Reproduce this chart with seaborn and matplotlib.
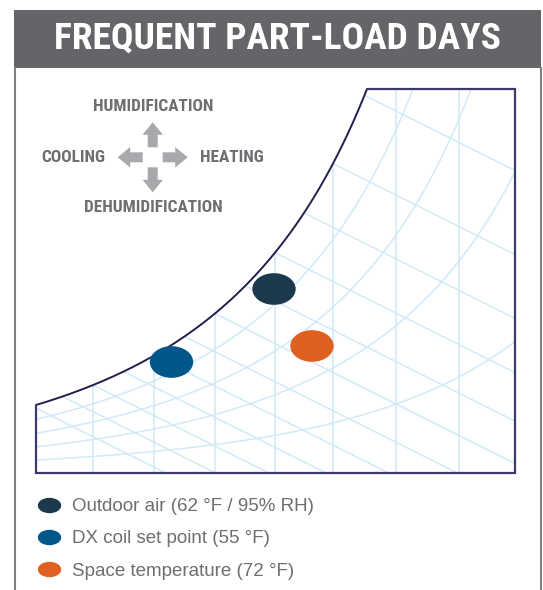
import os
import numpy as np
import pandas as pd
import matplotlib
matplotlib.use("Agg")
import matplotlib.pyplot as plt
import seaborn as sns
from matplotlib.path import Path
from matplotlib.patches import Rectangle, FancyArrow
from matplotlib.lines import Line2D
from matplotlib import font_manager
from matplotlib.font_manager import FontProperties

sns.set_theme(style="white")
plt.rcParams["font.family"] = ["Liberation Sans", "DejaVu Sans"]

# ---------------- content ----------------
title = "FREQUENT PART-LOAD DAYS"

state_labels = ["Outdoor air (62 °F / 95% RH)",
                "DX coil set point (55 °F)",
                "Space temperature (72 °F)"]
state_colors = ["#1c384c", "#02578a", "#e06020"]
# state points on the chart grid (dry-bulb units across, moisture units up)
state_drybulb = [238.0, 135.5, 276.0]
state_moisture = [184.0, 111.0, 127.0]

process_labels = ["HUMIDIFICATION", "HEATING", "DEHUMIDIFICATION", "COOLING"]
process_dx = [0, 1, 0, -1]
process_dy = [1, 0, -1, 0]

# chart grid
drybulb_lines = [57, 118, 179, 239, 297, 360, 423]
rh_levels = [0.2, 0.4, 0.6, 0.8]
wetbulb_starts = [-4, 26.5, 57, 87.5, 118, 148.5, 179, 209, 239, 268, 297, 328.5]

# chart extent in grid units
DB_MAX, W_MAX = 479.0, 384.0
# humidity ratio W = S·φ·p/(1 − φ·p), p = saturation pressure ratio along dry bulb
SCALE, P0, GROWTH, CURVE = 1043.0, 0.0612, 0.004143, 1.0e-6
WB_SLOPE = 0.5

GRID = "#d0eaf8"
FRAME = "#3c3a6c"
SAT = "#221f4f"
GREY_TXT = "#6d6e71"


def moisture(db, phi):
    db = np.asarray(db, dtype=float)
    p = P0 * np.exp(GROWTH * db + CURVE * db ** 2)
    return SCALE * phi * p / (1.0 - phi * p)


def ellipse_marker(ratio):
    circ = Path.unit_circle()
    return Path(circ.vertices * np.array([1.0, ratio]), circ.codes)


def narrow_font(bold):
    """Pick an installed narrow/condensed face, else the regular sans."""
    prefs = ("liberationsansnarrow", "robotocondensed", "dejavusanscondensed",
             "opensanscondensed", "opensans_condensed")
    found = []
    for f in font_manager.fontManager.ttflist:
        base = os.path.basename(f.fname).lower()
        flat = base.replace("-", "").replace(" ", "")
        if not ("narrow" in base or "condensed" in base):
            continue
        if any(k in base for k in ("italic", "oblique", "semi", "extra",
                                   "light", "black", "medium", "thin")):
            continue
        if ("bold" in base) != bold:
            continue
        rank = next((i for i, p in enumerate(prefs) if flat.startswith(p)), len(prefs))
        found.append((rank, f.fname))
    if found:
        return FontProperties(fname=sorted(found)[0][1])
    return FontProperties(family=["Liberation Sans", "DejaVu Sans"],
                          weight="bold" if bold else "normal")


# ---------------- figure ----------------
fig = plt.figure(figsize=(5.43, 5.90), dpi=100)
fig.patch.set_facecolor("white")
renderer = fig.canvas.get_renderer()


def fit_width(txt, target_px):
    w = txt.get_window_extent(renderer).width
    txt.set_fontsize(txt.get_fontsize() * target_px / w)
    return txt.get_fontsize()


page = fig.add_axes([0, 0, 1, 1])
page.set_xlim(0, 543)
page.set_ylim(590, 0)
page.axis("off")

bold_narrow = narrow_font(True)

# title banner and panel sides
page.add_patch(Rectangle((14, 9.5), 527, 58, color="#636569", lw=0))
t_title = page.text(277.5, 39, title, color="white", fontproperties=bold_narrow,
                    fontsize=26, ha="center", va="center")
fit_width(t_title, 447)
for xs in (15.3, 540.7):
    page.plot([xs, xs], [67, 590], color="#7f8084", lw=1.5,
              solid_capstyle="butt")

# process direction key
cx, cy = 152.7, 157.3
key_texts = []
for lab, dx, dy in zip(process_labels, process_dx, process_dy):
    ux, uy = dx, -dy
    page.add_patch(FancyArrow(cx + 10 * ux, cy + 10 * uy, 25 * ux, 25 * uy,
                              width=10, head_width=20.5, head_length=12.5,
                              length_includes_head=True, color="#a7a9ac", lw=0))
    if dx == 0:
        t = page.text(cx + 0.8, cy + uy * 50.5, lab, ha="center", va="center",
                      fontproperties=bold_narrow, fontsize=12.7, color=GREY_TXT)
    else:
        t = page.text(cx + ux * 47, cy, lab, ha="left" if dx > 0 else "right",
                      va="center", fontproperties=bold_narrow, fontsize=12.7,
                      color=GREY_TXT)
    key_texts.append(t)
key_size = fit_width(key_texts[0], 120)
for t in key_texts[1:]:
    t.set_fontsize(key_size)

# psychrometric chart panel
chart = fig.add_axes([36 / 543, 117 / 590, 479 / 543, 384 / 590])
chart.set_facecolor("none")

db = np.linspace(0, DB_MAX, 800)
for phi in rh_levels:
    chart.plot(db, moisture(db, phi), color=GRID, lw=1.1, zorder=1)
for x in drybulb_lines:
    chart.plot([x, x], [0, float(moisture(x, 1.0))], color=GRID, lw=1.1, zorder=1)
for x0 in wetbulb_starts:
    y0 = float(moisture(x0, 1.0))
    y_end = y0 - WB_SLOPE * (DB_MAX - x0)
    if y_end >= 0:
        xe, ye = DB_MAX, y_end
    else:
        xe, ye = x0 + y0 / WB_SLOPE, 0.0
    chart.plot([x0, xe], [y0, ye], color=GRID, lw=1.1, zorder=1)

# saturation curve up to where it meets the top edge
lo, hi = 0.0, DB_MAX
for _ in range(60):
    mid = 0.5 * (lo + hi)
    if moisture(mid, 1.0) < W_MAX:
        lo = mid
    else:
        hi = mid
db_top = lo
db_sat = np.linspace(0, db_top, 400)
chart.plot(db_sat, moisture(db_sat, 1.0), color=SAT, lw=1.4, zorder=3, clip_on=False)
w0 = float(moisture(0, 1.0))
chart.plot([db_top, DB_MAX, DB_MAX, 0, 0], [W_MAX, W_MAX, 0, 0, w0],
           color=FRAME, lw=1.6, zorder=3, clip_on=False, solid_joinstyle="miter")

states = pd.DataFrame({"state": state_labels,
                       "drybulb": state_drybulb,
                       "moisture": state_moisture})
sns.scatterplot(data=states, x="drybulb", y="moisture", hue="state",
                palette=state_colors, marker=ellipse_marker(0.73), s=975,
                linewidth=0, legend=False, ax=chart, zorder=5)
chart.set_xlim(0, DB_MAX)
chart.set_ylim(0, W_MAX)
chart.axis("off")

# legend
handles = [Line2D([], [], lw=0, marker=ellipse_marker(0.66), ms=16.8,
                  markerfacecolor=c, markeredgewidth=0) for c in state_colors]
leg = page.legend(handles, state_labels, loc="upper left",
                  bbox_to_anchor=(37.3, 498.0), bbox_transform=page.transData,
                  frameon=False, borderpad=0, borderaxespad=0,
                  handlelength=1.25, handletextpad=0.59, labelspacing=0.81,
                  prop={"family": ["Liberation Sans", "DejaVu Sans"], "size": 13.5})
for txt in leg.get_texts():
    txt.set_color(GREY_TXT)

fig.savefig("out.png", dpi=100, facecolor="white")
